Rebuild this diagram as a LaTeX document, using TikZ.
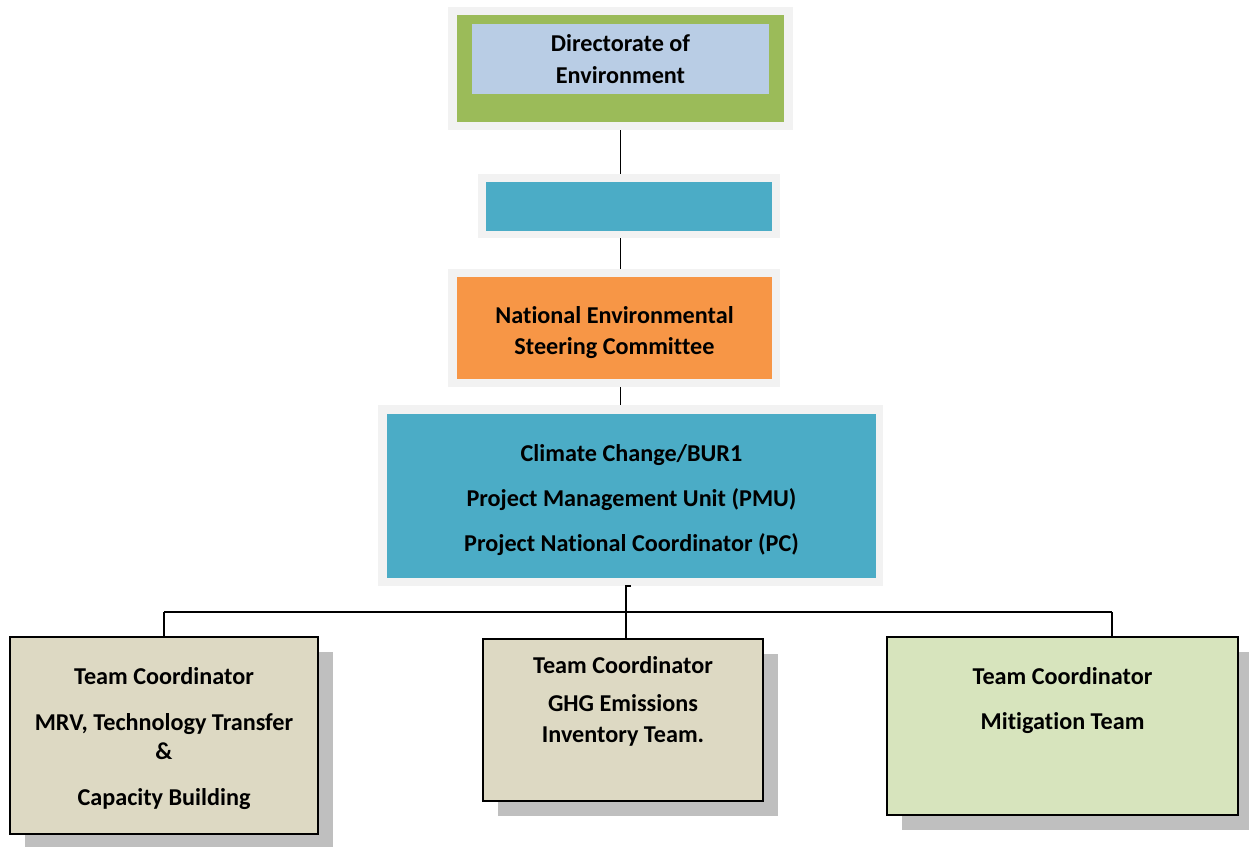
\documentclass[tikz,border=0pt]{standalone}
\usepackage{fontspec}
\setmainfont{Carlito}[RawFeature={-liga}]
\usetikzlibrary{calc}
\definecolor{framegray}{HTML}{F2F2F2}
\definecolor{dgreen}{HTML}{9BBB59}
\definecolor{lblue}{HTML}{B9CDE5}
\definecolor{teal}{HTML}{4BACC6}
\definecolor{orng}{HTML}{F79646}
\definecolor{tan}{HTML}{DDD9C3}
\definecolor{lgreen}{HTML}{D7E4BD}
\definecolor{shad}{HTML}{BFBFBF}
\tikzset{
  box/.style={rectangle, inner sep=0pt, outer sep=0pt},
  frame/.style={box, fill=framegray},
  team/.style={box, draw=black, line width=1.8pt},
  shadowbox/.style={box, fill=shad},
  txt/.style={anchor=base, inner sep=0pt, font=\fontsize{24.2}{29}\selectfont\bfseries},
  conn/.style={draw=black, line width=1.8pt}
}
\begin{document}
\begin{tikzpicture}[x=1pt,y=-1pt]
\useasboundingbox (0,0) rectangle (1249,846);
% top box
\node[frame, minimum width=345, minimum height=123] (f1) at (620.5,68.5) {};
\node[box, fill=dgreen, minimum width=327, minimum height=107] (b1) at (620.5,68.5) {};
\node[box, fill=lblue, minimum width=297, minimum height=70] (b1i) at (620.5,59) {};
\node[txt] (t1a) at (620.5,51) {Directorate of};
\node[txt] (t1b) at (620.5,83) {Environment};
% empty blue box
\node[frame, minimum width=302, minimum height=64] (f2) at (629,206) {};
\node[box, fill=teal, minimum width=286, minimum height=49] (b2) at (629,206.5) {};
% orange box
\node[frame, minimum width=332, minimum height=118] (f3) at (614,328) {};
\node[box, fill=orng, minimum width=315, minimum height=102] (b3) at (614.5,328) {};
\node[txt] (t3a) at (614.5,323) {National Environmental};
\node[txt] (t3b) at (614.5,354) {Steering Committee};
% PMU box
\node[frame, minimum width=505, minimum height=181] (f4) at (630.5,495.5) {};
\node[box, fill=teal, minimum width=489, minimum height=164] (b4) at (631.5,496) {};
\node[txt] (t4a) at (631.5,461) {Climate Change/BUR1};
\node[txt] (t4b) at (631.5,506) {Project Management Unit (PMU)};
\node[txt] (t4c) at (631.5,551) {Project National Coordinator (PC)};
% team boxes with shadows
\node[shadowbox, minimum width=308, minimum height=197] (s5) at (179,750) {};
\node[team, fill=tan, minimum width=308, minimum height=197] (b5) at (164,735.5) {};
\node[txt] (t5a) at (164,684) {Team Coordinator};
\node[txt] (t5b) at (164,730) {MRV, Technology Transfer};
\node[txt] (t5c) at (164,759) {\&};
\node[txt] (t5d) at (164,805) {Capacity Building};
\node[shadowbox, minimum width=280, minimum height=162] (s6) at (638,735) {};
\node[team, fill=tan, minimum width=280, minimum height=162] (b6) at (623,720) {};
\node[txt] (t6a) at (623,673) {Team Coordinator};
\node[txt] (t6b) at (623,711) {GHG Emissions};
\node[txt] (t6c) at (623,742) {Inventory Team.};
\node[shadowbox, minimum width=351, minimum height=178] (s7) at (1077.5,741) {};
\node[team, fill=lgreen, minimum width=351, minimum height=178] (b7) at (1062.5,726) {};
\node[txt] (t7a) at (1062.5,684) {Team Coordinator};
\node[txt] (t7b) at (1062.5,729) {Mitigation Team};
% connectors
\coordinate (j) at (626,612);
\coordinate (jr) at (1112,612);
\draw[conn] (f1.south) -- (f1.south |- f2.north);
\draw[conn] (f1.south |- f2.south) -- (f1.south |- f3.north);
\draw[conn] (f1.south |- f3.south) -- (f1.south |- f4.north);
\draw[conn] ($(j |- f4.south)+(5,0)$) -- (j |- f4.south) -- (j |- b6.north);
\draw[conn] (b5.north |- j) -- (jr);
\draw[conn] (b5.north) -- (b5.north |- j);
\draw[conn] (jr) -- (jr |- b7.north);
\end{tikzpicture}
\end{document}
